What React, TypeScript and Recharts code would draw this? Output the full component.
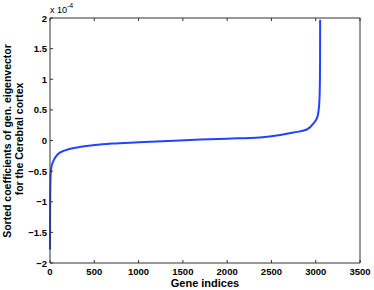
import { LineChart, Line, XAxis, YAxis } from "recharts";

// sorted coefficients (x 1e-4)
const geneIdx = [0, 1, 3, 6, 10, 20, 40, 90, 170, 320, 500, 700, 1000, 1400, 1700, 2000, 2370, 2600, 2750, 2900, 2975, 3020, 3040, 3046, 3049, 3050];
const coef = [-1.78, -1.3, -0.85, -0.62, -0.5, -0.41, -0.33, -0.22, -0.16, -0.11, -0.075, -0.05, -0.03, -0.005, 0.015, 0.03, 0.05, 0.09, 0.13, 0.18, 0.28, 0.39, 0.61, 0.85, 1.3, 1.97];

const xTicks = [0, 500, 1000, 1500, 2000, 2500, 3000, 3500];
const yTicks = [-2, -1.5, -1, -0.5, 0, 0.5, 1, 1.5, 2];

const data = geneIdx.map((g, i) => ({ g, v: coef[i] }));

const AXIS = "#333";
const FONT = "'Liberation Sans', Arial, Helvetica, sans-serif";

const fmtY = (v: number) => (v < 0 ? "\u2212" + Math.abs(v) : String(v));

const BottomTick = ({ x, y, payload }: any) => (
  <g>
    <line x1={x} x2={x} y1={y} y2={y - 3} stroke={AXIS} />
    <text x={x} y={y + 12} textAnchor="middle" fontSize={9.5} fontWeight="bold" fontFamily={FONT} fill="#000">
      {payload.value}
    </text>
  </g>
);

const LeftTick = ({ x, y, payload }: any) => (
  <g>
    <line x1={x} x2={x + 3} y1={y} y2={y} stroke={AXIS} />
    <text x={x - 3} y={y + 3.5} textAnchor="end" fontSize={9.5} fontWeight="bold" fontFamily={FONT} fill="#000">
      {fmtY(payload.value)}
    </text>
  </g>
);

const TopTick = ({ x, y }: any) => <line x1={x} x2={x} y1={y} y2={y + 3} stroke={AXIS} />;
const RightTick = ({ x, y }: any) => <line x1={x} x2={x - 3} y1={y} y2={y} stroke={AXIS} />;

export default function App() {
  return (
    <div style={{ width: 374, height: 290 }}>
      <style>{`body{margin:0}`}</style>
      <LineChart width={374} height={290} data={data} margin={{ top: 17, right: 13, bottom: 7, left: 0 }}>
        <XAxis
          dataKey="g"
          type="number"
          domain={[0, 3500]}
          ticks={xTicks}
          height={20}
          tickSize={0}
          tickMargin={0}
          tick={<BottomTick />}
          axisLine={{ stroke: AXIS }}
          interval={0}
        />
        <XAxis
          xAxisId="top"
          orientation="top"
          dataKey="g"
          type="number"
          domain={[0, 3500]}
          ticks={xTicks}
          height={1}
          tickSize={0}
          tickMargin={0}
          tick={<TopTick />}
          axisLine={{ stroke: AXIS }}
          interval={0}
        />
        <YAxis
          type="number"
          domain={[-2, 2]}
          ticks={yTicks}
          width={50}
          tickSize={0}
          tickMargin={0}
          tick={<LeftTick />}
          axisLine={{ stroke: AXIS }}
          interval={0}
        />
        <YAxis
          yAxisId="right"
          orientation="right"
          type="number"
          domain={[-2, 2]}
          ticks={yTicks}
          width={1}
          tickSize={0}
          tickMargin={0}
          tick={<RightTick />}
          axisLine={{ stroke: AXIS }}
          interval={0}
        />
        <Line
          dataKey="v"
          type="monotone"
          stroke="#2244ff"
          strokeWidth={2}
          dot={false}
          isAnimationActive={false}
        />
        <text x={50} y={13} fontSize={9} fontFamily={FONT} fill="#000">
          x 10<tspan dy={-5} fontSize={7}>-4</tspan>
        </text>
        <text
          transform="translate(11,141) rotate(-90)"
          textAnchor="middle"
          fontSize={10.5}
          fontWeight="bold"
          fontFamily={FONT}
          fill="#000"
        >
          Sorted coefficients of gen. eigenvector
        </text>
        <text
          transform="translate(23,139) rotate(-90)"
          textAnchor="middle"
          fontSize={10.5}
          fontWeight="bold"
          fontFamily={FONT}
          fill="#000"
        >
          for the Cerebral cortex
        </text>
        <text x={205} y={287} textAnchor="middle" fontSize={11} fontWeight="bold" fontFamily={FONT} fill="#000">
          Gene indices
        </text>
      </LineChart>
    </div>
  );
}
